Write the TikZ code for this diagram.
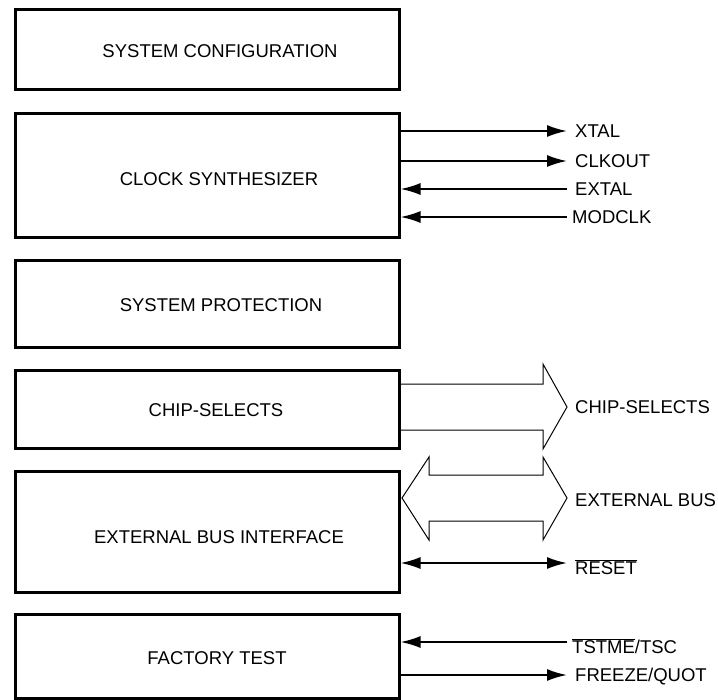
\documentclass[tikz,border=0pt]{standalone}
\usepackage{fontspec}
\setmainfont{Liberation Sans}
\usetikzlibrary{arrows.meta}
\begin{document}
\begin{tikzpicture}[>={Latex[length=20bp,width=12bp]},line join=miter,
  font=\fontsize{18.5bp}{22bp}\selectfont,
  block/.style={draw,line width=3bp,minimum width=384bp,inner sep=0pt},
  blocktext/.style={inner sep=0pt},
  pin/.style={inner xsep=8bp,inner ysep=0pt,anchor=west,text depth=0pt},
  sig/.style={line width=2bp},
  bus/.style={line width=1bp}]
%%
\useasboundingbox (0bp,0bp) rectangle (718bp,-700bp);
\node (sysconf) at (207bp,-49bp) [block,minimum height=80bp] {};
  \node (sysconf-t) at (220bp,-51.5bp) [blocktext] {SYSTEM CONFIGURATION};
  \node (clksyn) at (207bp,-175bp) [block,minimum height=124bp] {};
  \node (clksyn-t) at (219bp,-179.5bp) [blocktext] {CLOCK SYNTHESIZER};
  \node (sysprot) at (207bp,-303.5bp) [block,minimum height=87bp] {};
  \node (sysprot-t) at (221bp,-305bp) [blocktext] {SYSTEM PROTECTION};
  \node (chipsel) at (207bp,-409bp) [block,minimum height=78bp] {};
  \node (chipsel-t) at (216bp,-410bp) [blocktext] {CHIP-SELECTS};
  \node (ebi) at (207bp,-531.5bp) [block,minimum height=121bp] {};
  \node (ebi-t) at (219bp,-537bp) [blocktext] {EXTERNAL BUS INTERFACE};
  \node (factest) at (207bp,-656bp) [block,minimum height=84bp] {};
  \node (factest-t) at (217bp,-658bp) [blocktext] {FACTORY TEST};
%%
\node (xtal) at (567bp,-131bp) [pin] {XTAL};
  \node (clkout) at (567bp,-161bp) [pin] {CLKOUT};
  \node (extal) at (567bp,-189bp) [pin] {EXTAL};
  \node (modclk) at (567bp,-217bp) [pin,inner xsep=5bp] {MODCLK};
  \node (cs) at (567bp,-407bp) [pin] {CHIP-SELECTS};
  \node (extbus) at (567bp,-500bp) [pin] {EXTERNAL BUS};
  \node (reset) at (567bp,-567bp) [pin] {$\overline{\mbox{RESET}}$};
  \node (tstme) at (567bp,-646bp) [pin,inner xsep=5bp] {$\overline{\mbox{TSTME}}$/TSC};
  \node (freeze) at (567bp,-675bp) [pin] {FREEZE/QUOT};
%%
\draw [sig,->] (xtal.west -| clksyn.east) -- (xtal.west);
  \draw [sig,->] (clkout.west -| clksyn.east) -- (clkout.west);
  \draw [sig,->] (extal.west) -- (extal.west -| clksyn.east);
  \draw [sig,->] (modclk.west) -- (modclk.west -| clksyn.east);
  \draw [sig,<->] (ebi.east |- 0,-563bp) -- (567bp,-563bp);
  \draw [sig,->] (567bp,-642bp) -- (factest.east |- 0,-642bp);
  \draw [sig,->] (freeze.west -| factest.east) -- (freeze.west);
%%
\draw [bus] (chipsel.east |- 0,-384bp) -- (543bp,-384bp) -- (543bp,-364bp) -- (567bp,-407bp)
  -- (543bp,-449bp) -- (543bp,-430bp) -- (chipsel.east |- 0,-430bp);
  \draw [bus] (402bp,-498bp) -- (429bp,-457bp) -- (429bp,-475bp) -- (543bp,-475bp)
  -- (543bp,-457bp) -- (567bp,-498bp) -- (543bp,-540bp) -- (543bp,-521bp)
  -- (429bp,-521bp) -- (429bp,-540bp) -- cycle;
%
\end{tikzpicture}
\end{document}
